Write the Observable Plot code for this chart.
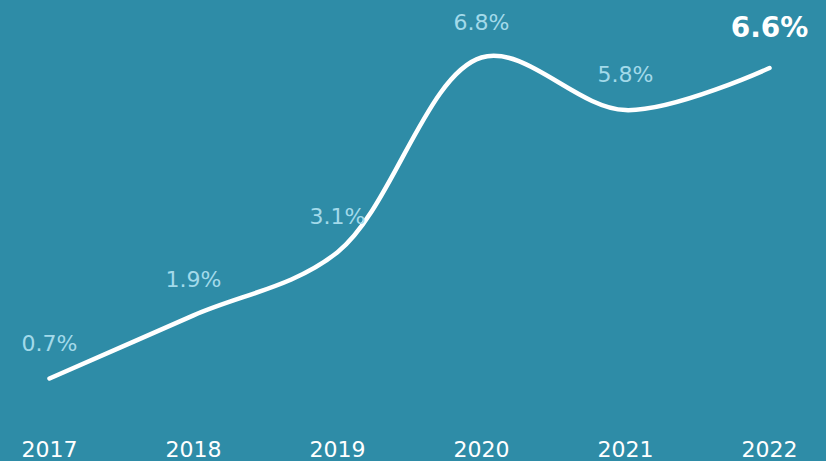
<!DOCTYPE html>
<html>
<head>
<meta charset="utf-8">
<script src="https://cdn.jsdelivr.net/npm/d3@7"></script>
<script src="https://cdn.jsdelivr.net/npm/@observablehq/plot@0.6"></script>
<style>
  html, body { margin: 0; padding: 0; background: #2E8CA7; }
  #chart { width: 826px; height: 461px; overflow: hidden; }
</style>
</head>
<body>
<div id="chart"></div>
<script>
const years = [2017, 2018, 2019, 2020, 2021, 2022];
const values = [0.7, 1.9, 3.1, 6.8, 5.8, 6.6];
const labels = ["0.7%", "1.9%", "3.1%", "6.8%", "5.8%", "6.6%"];

const data = years.map((year, i) => ({year, value: values[i], label: labels[i], last: i === years.length - 1}));

const font = "'DejaVu Sans', sans-serif";

const chart = Plot.plot({
  width: 826,
  height: 461,
  marginTop: 0,
  marginBottom: 0,
  marginLeft: 0,
  marginRight: 0,
  style: {background: "#2E8CA7", fontFamily: font, overflow: "visible"},
  x: {type: "linear", domain: [2017, 2022], range: [49, 769], axis: null},
  y: {domain: [0.7, 6.8], range: [378, 57], axis: null},
  marks: [
    Plot.line(data, {x: "year", y: "value", curve: "catmull-rom", stroke: "white", strokeWidth: 4.5, strokeLinecap: "round", strokeLinejoin: "round"}),
    Plot.text(data.filter(d => !d.last), {x: "year", y: "value", text: "label", dy: -35, fill: "#A3DAEA", fontSize: 22, fontWeight: "normal", letterSpacing: 1.5}),
    Plot.text(data.filter(d => d.last), {x: "year", y: "value", text: "label", dy: -40, fill: "white", fontSize: 28, fontWeight: "bold", letterSpacing: 2.5}),
    Plot.text(years, {x: d => d, frameAnchor: "bottom", text: d => String(d), dy: -5, fill: "white", fontSize: 22, letterSpacing: 1.5, lineAnchor: "bottom"})
  ]
});
document.getElementById("chart").appendChild(chart);
</script>
</body>
</html>
